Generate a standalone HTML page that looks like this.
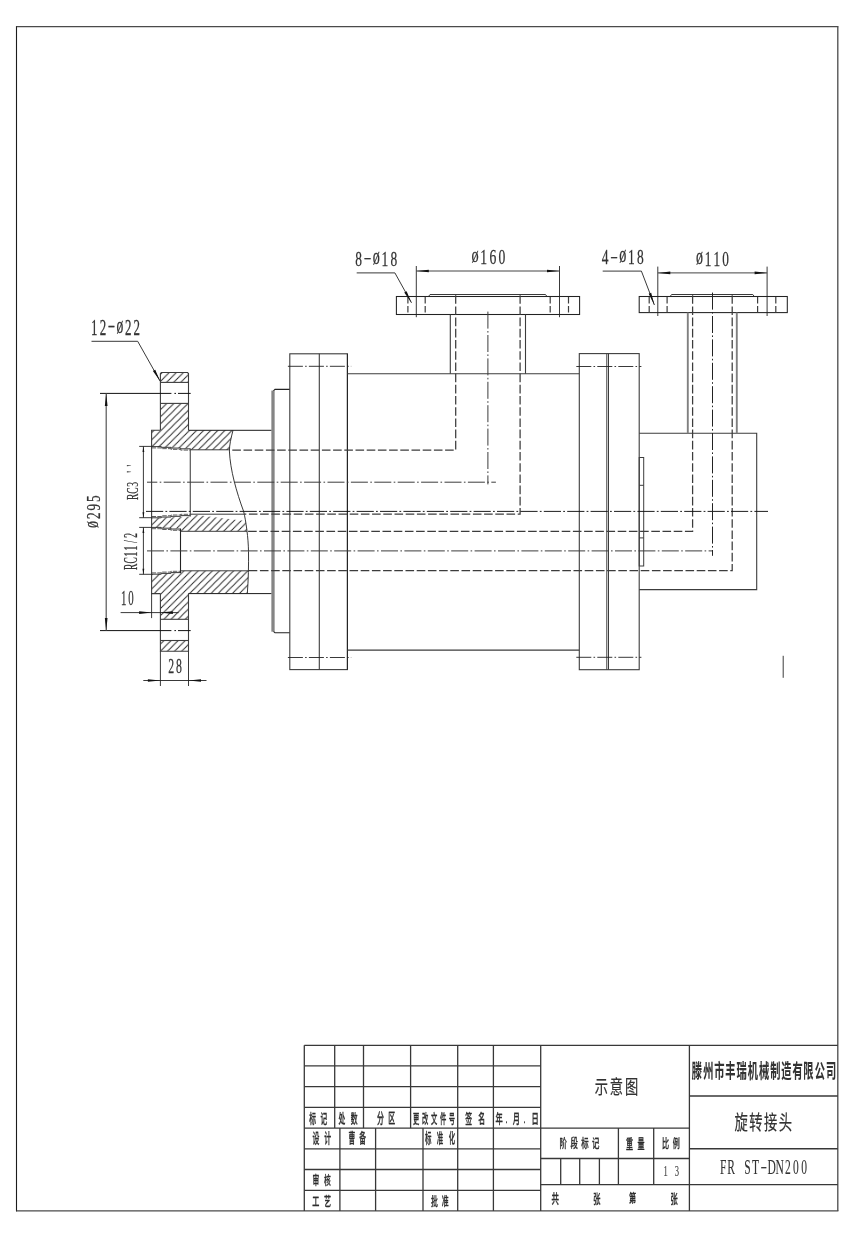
<!DOCTYPE html>
<html lang="zh-CN">
<head>
<meta charset="utf-8">
<title>旋转接头 FR ST-DN200 示意图</title>
<style>
html,body{margin:0;padding:0;background:#fff;}
body{width:860px;height:1237px;overflow:hidden;}
svg{display:block;}
svg #text{filter:grayscale(1);}
svg text{font-family:"Liberation Sans","Noto Sans CJK SC",sans-serif;fill:#333;}
svg .cjk{font-family:"Liberation Sans","Noto Sans CJK SC",sans-serif;}
svg .f-serif{font-family:"Liberation Serif","Noto Sans CJK SC",serif;}
svg .f-mono{font-family:"Liberation Mono","Noto Sans CJK SC",monospace;}
svg .f-sans{font-family:"Liberation Sans","Noto Sans CJK SC",sans-serif;}
</style>
</head>
<body>
<svg width="860" height="1237" viewBox="0 0 860 1237" fill="none" stroke="#3c3c3c" stroke-width="1" stroke-linecap="butt">
<rect x="0" y="0" width="860" height="1237" fill="#ffffff" stroke="none"/>
<g id="border">
<line x1="16.5" y1="26.1" x2="16.5" y2="1211.4" stroke-width="1.1" stroke="#1c1c1c"/>
<line x1="16.5" y1="26.6" x2="838.4" y2="26.6" stroke-width="1.3" stroke="#4a4a4a"/>
<line x1="837.8" y1="26.6" x2="837.8" y2="1210.9" stroke-width="1.3" stroke="#4a4a4a"/>
<line x1="16.5" y1="1210.9" x2="838.4" y2="1210.9" stroke-width="1.3" stroke="#4a4a4a"/>
</g>
<g id="titleblock">
<line x1="304.3" y1="1045.3" x2="837.8" y2="1045.3" stroke-width="1.35" stroke="#383838"/>
<line x1="304.3" y1="1065.9" x2="540.7" y2="1065.9" stroke-width="1.3" stroke="#383838"/>
<line x1="304.3" y1="1086.6" x2="540.7" y2="1086.6" stroke-width="1.3" stroke="#383838"/>
<line x1="304.3" y1="1107.4" x2="540.7" y2="1107.4" stroke-width="1.3" stroke="#383838"/>
<line x1="304.3" y1="1128.1" x2="540.7" y2="1128.1" stroke-width="1.3" stroke="#383838"/>
<line x1="304.3" y1="1148.8" x2="540.7" y2="1148.8" stroke-width="1.3" stroke="#383838"/>
<line x1="304.3" y1="1169.5" x2="540.7" y2="1169.5" stroke-width="1.3" stroke="#383838"/>
<line x1="304.3" y1="1190.3" x2="540.7" y2="1190.3" stroke-width="1.3" stroke="#383838"/>
<line x1="304.3" y1="1045.3" x2="304.3" y2="1210.9" stroke-width="1.3" stroke="#383838"/>
<line x1="457.7" y1="1045.3" x2="457.7" y2="1210.9" stroke-width="1.3" stroke="#383838"/>
<line x1="493.4" y1="1045.3" x2="493.4" y2="1210.9" stroke-width="1.3" stroke="#383838"/>
<line x1="540.7" y1="1045.3" x2="540.7" y2="1210.9" stroke-width="1.3" stroke="#383838"/>
<line x1="689.4" y1="1045.3" x2="689.4" y2="1210.9" stroke-width="1.3" stroke="#383838"/>
<line x1="334.7" y1="1045.3" x2="334.7" y2="1128.1" stroke-width="1.3" stroke="#383838"/>
<line x1="363.5" y1="1045.3" x2="363.5" y2="1128.1" stroke-width="1.3" stroke="#383838"/>
<line x1="410.6" y1="1045.3" x2="410.6" y2="1128.1" stroke-width="1.3" stroke="#383838"/>
<line x1="339.9" y1="1128.1" x2="339.9" y2="1210.9" stroke-width="1.3" stroke="#383838"/>
<line x1="375.6" y1="1128.1" x2="375.6" y2="1210.9" stroke-width="1.3" stroke="#383838"/>
<line x1="423.0" y1="1128.1" x2="423.0" y2="1210.9" stroke-width="1.3" stroke="#383838"/>
<line x1="540.7" y1="1128.1" x2="689.4" y2="1128.1" stroke-width="1.3" stroke="#383838"/>
<line x1="540.7" y1="1158.5" x2="689.4" y2="1158.5" stroke-width="1.3" stroke="#383838"/>
<line x1="540.7" y1="1184.6" x2="689.4" y2="1184.6" stroke-width="1.3" stroke="#383838"/>
<line x1="618.4" y1="1128.1" x2="618.4" y2="1184.6" stroke-width="1.3" stroke="#383838"/>
<line x1="653.7" y1="1128.1" x2="653.7" y2="1184.6" stroke-width="1.3" stroke="#383838"/>
<line x1="560.7" y1="1158.5" x2="560.7" y2="1184.6" stroke-width="1.3" stroke="#383838"/>
<line x1="579.7" y1="1158.5" x2="579.7" y2="1184.6" stroke-width="1.3" stroke="#383838"/>
<line x1="599.4" y1="1158.5" x2="599.4" y2="1184.6" stroke-width="1.3" stroke="#383838"/>
<line x1="689.4" y1="1096.0" x2="837.8" y2="1096.0" stroke-width="1.35" stroke="#383838"/>
<line x1="689.4" y1="1148.7" x2="837.8" y2="1148.7" stroke-width="1.35" stroke="#383838"/>
<line x1="689.4" y1="1184.6" x2="837.8" y2="1184.6" stroke-width="1.35" stroke="#383838"/>
</g>
<defs>
<pattern id="hatch" patternUnits="userSpaceOnUse" width="7.1" height="7.1" patternTransform="translate(2.2 0)"><path d="M-1 8.1 L8.1 -1 M-1 1 L1 -1 M6.1 8.1 L8.1 6.1" stroke="#262626" stroke-width="0.95" fill="none"/></pattern>
</defs>
<g id="left-flange">
<path d="M160.4 372.5 L188.5 372.5 L188.5 382.4 L160.4 382.4 Z" fill="url(#hatch)" stroke="none"/>
<path d="M160.4 403.4 L188.5 403.4 L188.5 430.3 L233.0 430.3 L230.6 440 L229.4 449.9 L190.3 449.8 L190.3 448.6 L151.6 446.8 L151.6 430.3 L160.4 430.3 Z" fill="url(#hatch)" stroke="none"/>
<path d="M151.6 518.0 L190.3 516.6 L190.3 514.2 L245.6 521 L247.0 531.2 L180.5 531.3 L180.5 528.6 L151.6 527.5 Z" fill="url(#hatch)" stroke="none"/>
<path d="M151.6 574.0 L180.5 573.2 L180.5 570.8 L248.5 570.8 L248.0 583 L247.3 593.6 L188.5 593.6 L188.5 619.3 L160.4 619.3 L160.4 593.6 L151.6 593.6 Z" fill="url(#hatch)" stroke="none"/>
<path d="M160.4 640.5 L188.5 640.5 L188.5 651.3 L160.4 651.3 Z" fill="url(#hatch)" stroke="none"/>
<path d="M160.4 430.3 L160.4 373.5 L161.4 372.5 L187.5 372.5 L188.5 373.5 L188.5 430.3" fill="none" stroke-width="1.1"/>
<path d="M160.4 593.6 L160.4 651.3 L188.5 651.3 L188.5 593.6" fill="none" stroke-width="1.1"/>
<path d="M160.4 430.3 L151.6 430.3 L151.6 593.6 L160.4 593.6" fill="none" stroke-width="1.1"/>
<line x1="188.5" y1="430.3" x2="271.7" y2="430.3" stroke-width="1.0" stroke="#1a1a1a"/>
<line x1="188.5" y1="593.6" x2="271.7" y2="593.6" stroke-width="1.0" stroke="#1a1a1a"/>
<line x1="160.4" y1="382.4" x2="188.5" y2="382.4" stroke-width="1.1"/>
<line x1="160.4" y1="403.4" x2="188.5" y2="403.4" stroke-width="1.1"/>
<line x1="160.4" y1="619.3" x2="188.5" y2="619.3" stroke-width="1.1"/>
<line x1="160.4" y1="640.5" x2="188.5" y2="640.5" stroke-width="1.1"/>
<path d="M151.6 446.6 L161.28 446.6 L161.28 447.33 L170.95 447.33 L170.95 448.07 L180.62 448.07 L180.62 448.8 L190.3 448.8" fill="none" stroke-width="0.9" stroke="#222"/>
<path d="M151.6 447.9 L161.28 447.9 L161.28 448.63 L170.95 448.63 L170.95 449.37 L180.62 449.37 L180.62 450.1 L190.3 450.1" fill="none" stroke-width="0.8" stroke="#333" stroke-dasharray="4.5 1.2"/>
<path d="M151.6 517.8 L161.28 517.8 L161.28 517.07 L170.95 517.07 L170.95 516.33 L180.62 516.33 L180.62 515.6 L190.3 515.6" fill="none" stroke-width="0.9" stroke="#222"/>
<path d="M151.6 516.5 L161.28 516.5 L161.28 515.77 L170.95 515.77 L170.95 515.03 L180.62 515.03 L180.62 514.3 L190.3 514.3" fill="none" stroke-width="0.8" stroke="#333" stroke-dasharray="4.5 1.2"/>
<line x1="190.3" y1="448.6" x2="190.3" y2="516.6" stroke-width="1.2" stroke="#555"/>
<path d="M151.6 527.4 L161.23 527.4 L161.23 528.2 L170.87 528.2 L170.87 529.0 L180.5 529.0" fill="none" stroke-width="0.9" stroke="#222"/>
<path d="M151.6 528.7 L161.23 528.7 L161.23 529.5 L170.87 529.5 L170.87 530.3 L180.5 530.3" fill="none" stroke-width="0.8" stroke="#333" stroke-dasharray="4.5 1.2"/>
<path d="M151.6 574.2 L161.23 574.2 L161.23 573.4 L170.87 573.4 L170.87 572.6 L180.5 572.6" fill="none" stroke-width="0.9" stroke="#222"/>
<path d="M151.6 572.9 L161.23 572.9 L161.23 572.1 L170.87 572.1 L170.87 571.3 L180.5 571.3" fill="none" stroke-width="0.8" stroke="#333" stroke-dasharray="4.5 1.2"/>
<line x1="180.5" y1="528.6" x2="180.5" y2="573.2" stroke-width="1.1" stroke="#222"/>
<line x1="190.3" y1="449.8" x2="228.9" y2="449.8" stroke-width="1.0"/>
<line x1="190.3" y1="514.2" x2="244.0" y2="514.2" stroke-width="1.0"/>
<line x1="180.5" y1="531.3" x2="247.0" y2="531.3" stroke-width="1.0"/>
<line x1="180.5" y1="570.8" x2="248.5" y2="570.8" stroke-width="1.0"/>
<path d="M233.0 430.3 C231 438 229.4 445 229.4 451 C230.2 470 236.5 492 243.6 511.3 C246 521 248.3 538 248.5 551.3 C248.7 565 248.4 580 247.3 593.6" stroke="#222" stroke-width="0.9" fill="none"/>
</g>
<g id="body">
<path d="M289.8 389.4 L275.0 389.4 L273.2 391.2" fill="none" stroke-width="1.1" stroke="#222"/>
<path d="M273.2 631.0 L275.0 632.8 L289.8 632.8" fill="none" stroke-width="1.1" stroke="#222"/>
<line x1="273.0" y1="390.6" x2="273.0" y2="631.7" stroke-width="3.3" stroke="#858585"/>
<rect x="289.8" y="353.8" width="57.6" height="315.8" stroke-width="1.1"/>
<line x1="319.3" y1="353.8" x2="319.3" y2="669.6" stroke-width="1.1"/>
<line x1="347.4" y1="353.8" x2="347.4" y2="669.6" stroke-width="1.0" stroke="#222"/>
<line x1="347.4" y1="373.7" x2="579.3" y2="373.7" stroke-width="1.1"/>
<line x1="347.4" y1="650.1" x2="579.3" y2="650.1" stroke-width="1.1"/>
<rect x="579.3" y="353.6" width="59.9" height="316.1" stroke-width="1.1"/>
<line x1="606.8" y1="353.6" x2="606.8" y2="669.7" stroke-width="1.0"/>
<line x1="608.5" y1="353.6" x2="608.5" y2="669.7" stroke-width="1.0"/>
<path d="M639.2 433.3 L756.7 433.3 L756.7 589.6 L639.2 589.6" fill="none" stroke-width="1.1"/>
<rect x="639.2" y="457.5" width="4.5" height="108.5" stroke-width="1"/>
<line x1="639.2" y1="485.3" x2="643.7" y2="485.3" stroke-width="1.0"/>
<line x1="639.2" y1="537.9" x2="643.7" y2="537.9" stroke-width="1.0"/>
<line x1="783.2" y1="655.8" x2="783.2" y2="677.8" stroke-width="1.0"/>
</g>
<g id="pipe1">
<rect x="396.4" y="296.5" width="183.2" height="18" stroke-width="1.05" stroke="#222"/>
<path d="M428.6 296.4 L430.0 294.5 L545.5 294.5 L546.9 296.4" fill="none" stroke-width="0.9" stroke="#222"/>
<line x1="450.3" y1="314.4" x2="450.3" y2="373.7" stroke-width="1.1"/>
<line x1="525.5" y1="314.4" x2="525.5" y2="373.7" stroke-width="1.1"/>
<line x1="407.9" y1="297.0" x2="407.9" y2="314.4" stroke-width="1.2" stroke-dasharray="6.5 2.5"/>
<line x1="425.2" y1="297.0" x2="425.2" y2="314.4" stroke-width="1.2" stroke-dasharray="6.5 2.5"/>
<line x1="550.2" y1="297.0" x2="550.2" y2="314.4" stroke-width="1.2" stroke-dasharray="6.5 2.5"/>
<line x1="568.5" y1="297.0" x2="568.5" y2="314.4" stroke-width="1.2" stroke-dasharray="6.5 2.5"/>
</g>
<g id="pipe2">
<rect x="639.2" y="296.5" width="148.1" height="16.1" stroke-width="1.05" stroke="#222"/>
<path d="M670.2 296.4 L671.6 294.5 L752.8 294.5 L754.2 296.4" fill="none" stroke-width="0.9" stroke="#222"/>
<line x1="687.8" y1="312.6" x2="687.8" y2="433.3" stroke-width="1.9" stroke="#808080"/>
<line x1="736.8" y1="312.6" x2="736.8" y2="433.3" stroke-width="1.9" stroke="#808080"/>
<line x1="649.2" y1="297.0" x2="649.2" y2="312.6" stroke-width="1.2" stroke-dasharray="6.5 2.5"/>
<line x1="667.1" y1="297.0" x2="667.1" y2="312.6" stroke-width="1.2" stroke-dasharray="6.5 2.5"/>
<line x1="757.6" y1="297.0" x2="757.6" y2="312.6" stroke-width="1.2" stroke-dasharray="6.5 2.5"/>
<line x1="775.8" y1="297.0" x2="775.8" y2="312.6" stroke-width="1.2" stroke-dasharray="6.5 2.5"/>
</g>
<g id="hidden">
<path d="M455.7 295.2 L455.7 450.0 L229.0 450.0" fill="none" stroke-width="1.25" stroke-dasharray="8.6 2.6"/>
<path d="M520.1 295.2 L520.1 514.2 L244.2 514.2" fill="none" stroke-width="1.25" stroke-dasharray="8.6 2.6"/>
<path d="M692.6 295.2 L692.6 531.3 L247.0 531.3" fill="none" stroke-width="1.25" stroke-dasharray="8.6 2.6"/>
<path d="M732.2 295.2 L732.2 570.7 L248.5 570.7" fill="none" stroke-width="1.25" stroke-dasharray="8.6 2.6"/>
</g>
<g id="centre">
<line x1="146.0" y1="511.4" x2="768.0" y2="511.4" stroke-width="0.95" stroke="#111" stroke-dasharray="17.2 2.2 1.8 2.2"/>
<path d="M147 482.2 L495.9 482.2" stroke-dasharray="17 2.4 1.6 2.4" stroke-dashoffset="6.7" stroke-width="1"/>
<path d="M487.9 311.6 L487.9 484.4" fill="none" stroke-width="1.0" stroke-dasharray="17 2.4 1.6 2.4"/>
<path d="M147.0 550.9 L712.5 550.9" fill="none" stroke-width="1.0" stroke-dasharray="17 2.4 1.6 2.4"/>
<path d="M712.5 292.6 L712.5 555.8" fill="none" stroke-width="1.0" stroke="#222" stroke-dasharray="17 2.4 1.6 2.4"/>
<line x1="287.9" y1="366.3" x2="351.2" y2="366.3" stroke-width="0.9" stroke="#222" stroke-dasharray="15 2.2 1.6 2.2"/>
<line x1="287.9" y1="657.5" x2="351.2" y2="657.5" stroke-width="0.9" stroke="#222" stroke-dasharray="15 2.2 1.6 2.2"/>
<line x1="576.3" y1="366.5" x2="641.4" y2="366.5" stroke-width="0.9" stroke="#222" stroke-dasharray="15 2.2 1.6 2.2"/>
<line x1="576.3" y1="657.3" x2="641.4" y2="657.3" stroke-width="0.9" stroke="#222" stroke-dasharray="15 2.2 1.6 2.2"/>
</g>
<g id="dims">
<path d="M91.5 341.3 L137.7 341.3 L160.2 381.3" fill="none" stroke-width="0.9" stroke="#222"/>
<path d="M160.20 381.30 L152.90 371.07 L155.25 369.74 Z" fill="#111" stroke="none"/>
<line x1="100.0" y1="393.4" x2="171.4" y2="393.4" stroke-width="1.0" stroke="#111"/>
<line x1="174.4" y1="393.4" x2="176.0" y2="393.4" stroke-width="1.0" stroke="#111"/>
<line x1="178.0" y1="393.4" x2="190.7" y2="393.4" stroke-width="1.0" stroke="#111"/>
<line x1="100.0" y1="630.6" x2="171.4" y2="630.6" stroke-width="1.0" stroke="#111"/>
<line x1="174.4" y1="630.6" x2="176.0" y2="630.6" stroke-width="1.0" stroke="#111"/>
<line x1="178.0" y1="630.6" x2="190.7" y2="630.6" stroke-width="1.0" stroke="#111"/>
<line x1="106.2" y1="393.4" x2="106.2" y2="630.6" stroke-width="1.2" stroke="#555"/>
<path d="M106.20 393.40 L107.55 405.90 L104.85 405.90 Z" fill="#111" stroke="none"/>
<path d="M106.20 630.60 L104.85 618.10 L107.55 618.10 Z" fill="#111" stroke="none"/>
<line x1="139.2" y1="446.4" x2="151.6" y2="446.4" stroke-width="0.9" stroke="#222"/>
<line x1="139.2" y1="517.7" x2="151.6" y2="517.7" stroke-width="0.9" stroke="#222"/>
<line x1="143.4" y1="446.4" x2="143.4" y2="517.7" stroke-width="0.9" stroke="#222"/>
<path d="M143.40 446.40 L144.30 451.90 L142.50 451.90 Z" fill="#111" stroke="none"/>
<path d="M143.40 517.70 L142.50 512.20 L144.30 512.20 Z" fill="#111" stroke="none"/>
<line x1="139.2" y1="527.4" x2="151.6" y2="527.4" stroke-width="0.9" stroke="#222"/>
<line x1="139.2" y1="574.3" x2="151.6" y2="574.3" stroke-width="0.9" stroke="#222"/>
<line x1="143.4" y1="527.4" x2="143.4" y2="574.3" stroke-width="0.9" stroke="#222"/>
<path d="M143.40 527.40 L144.30 532.90 L142.50 532.90 Z" fill="#111" stroke="none"/>
<path d="M143.40 574.30 L142.50 568.80 L144.30 568.80 Z" fill="#111" stroke="none"/>
<line x1="120.6" y1="612.6" x2="178.6" y2="612.6" stroke-width="0.9" stroke="#222"/>
<line x1="151.6" y1="593.6" x2="151.6" y2="618.1" stroke-width="0.9" stroke="#222"/>
<path d="M151.60 612.60 L139.10 613.95 L139.10 611.25 Z" fill="#111" stroke="none"/>
<path d="M160.40 612.60 L172.90 611.25 L172.90 613.95 Z" fill="#111" stroke="none"/>
<line x1="160.4" y1="651.3" x2="160.4" y2="686.0" stroke-width="0.9" stroke="#222"/>
<line x1="188.5" y1="651.3" x2="188.5" y2="686.0" stroke-width="0.9" stroke="#222"/>
<line x1="143.3" y1="680.5" x2="206.5" y2="680.5" stroke-width="0.9" stroke="#222"/>
<path d="M160.40 680.50 L147.90 681.85 L147.90 679.15 Z" fill="#111" stroke="none"/>
<path d="M188.50 680.50 L201.00 679.15 L201.00 681.85 Z" fill="#111" stroke="none"/>
<path d="M356.7 272.9 L394.9 272.9 L411.5 302.8" fill="none" stroke-width="0.9" stroke="#222"/>
<path d="M411.50 302.80 L404.26 292.52 L406.62 291.21 Z" fill="#111" stroke="none"/>
<line x1="416.3" y1="266.0" x2="416.3" y2="317.2" stroke-width="0.9" stroke="#222"/>
<line x1="559.5" y1="266.0" x2="559.5" y2="317.2" stroke-width="0.9" stroke="#222"/>
<line x1="416.3" y1="271.0" x2="559.5" y2="271.0" stroke-width="1.0" stroke="#444"/>
<path d="M416.30 271.00 L428.80 269.65 L428.80 272.35 Z" fill="#111" stroke="none"/>
<path d="M559.50 271.00 L547.00 272.35 L547.00 269.65 Z" fill="#111" stroke="none"/>
<path d="M602.7 271.1 L641.4 271.1 L654.4 305.0" fill="none" stroke-width="0.9" stroke="#222"/>
<path d="M654.40 305.00 L648.66 293.81 L651.18 292.85 Z" fill="#111" stroke="none"/>
<line x1="657.8" y1="266.6" x2="657.8" y2="316.0" stroke-width="0.9" stroke="#222"/>
<line x1="767.1" y1="266.6" x2="767.1" y2="316.0" stroke-width="0.9" stroke="#222"/>
<line x1="657.8" y1="272.9" x2="767.1" y2="272.9" stroke-width="1.0" stroke="#444"/>
<path d="M657.80 272.90 L670.30 271.55 L670.30 274.25 Z" fill="#111" stroke="none"/>
<path d="M767.10 272.90 L754.60 274.25 L754.60 271.55 Z" fill="#111" stroke="none"/>
</g>
<g id="text">
<text aria-label="12-ø22" transform="translate(0 334.88) scale(0.6471 1.1037)" x="140.51 153.98 166.41 179.88 193.36 206.48" y="0.00 0.00 -3.13 -1.72 0.00 0.00" font-size="20" class="f-serif" fill="#333" stroke="#333" stroke-width="0.25" xml:space="preserve">12<tspan font-size="14.4" textLength="11.30" lengthAdjust="spacingAndGlyphs">-</tspan><tspan font-size="21.0">ø</tspan>22</text>
<text aria-label="8-ø18" transform="translate(0 265.79) scale(0.6716 1.0741)" x="528.99 541.51 554.99 568.11 581.49" y="0.00 -3.13 -1.72 0.00 0.00" font-size="20" class="f-serif" fill="#333" stroke="#333" stroke-width="0.25" xml:space="preserve">8<tspan font-size="14.4" textLength="11.30" lengthAdjust="spacingAndGlyphs">-</tspan><tspan font-size="21.0">ø</tspan>18</text>
<text aria-label="ø160" transform="translate(0 264.20) scale(0.6824 1.0074)" x="690.81 703.93 717.21 730.43" y="-1.72 0.00 0.00 0.00" font-size="20" class="f-serif" fill="#333" stroke="#333" stroke-width="0.25" xml:space="preserve"><tspan font-size="21.0">ø</tspan>160</text>
<text aria-label="4-ø18" transform="translate(0 264.19) scale(0.6732 1.0519)" x="893.79 906.36 919.84 932.96 946.34" y="0.00 -3.13 -1.72 0.00 0.00" font-size="20" class="f-serif" fill="#333" stroke="#333" stroke-width="0.25" xml:space="preserve">4<tspan font-size="14.4" textLength="11.30" lengthAdjust="spacingAndGlyphs">-</tspan><tspan font-size="21.0">ø</tspan>18</text>
<text aria-label="ø110" transform="translate(0 265.79) scale(0.6635 1.0741)" x="1049.10 1062.22 1075.35 1088.72" y="-1.72 0.00 0.00 0.00" font-size="20" class="f-serif" fill="#333" stroke="#333" stroke-width="0.25" xml:space="preserve"><tspan font-size="21.0">ø</tspan>110</text>
<text aria-label="10" transform="translate(0 605.00) scale(0.5436 1.0222)" x="222.48 235.85" y="0.00 0.00" font-size="20" class="f-serif" fill="#333" stroke="#333" stroke-width="0.25" xml:space="preserve">10</text>
<text aria-label="28" transform="translate(0 672.99) scale(0.5900 1.0519)" x="285.23 298.25" y="0.00 0.00" font-size="20" class="f-serif" fill="#333" stroke="#333" stroke-width="0.25" xml:space="preserve">28</text>
<text aria-label="ø295" transform="translate(99.71 527.30) rotate(-90) scale(0.6593 0.9481)" x="-1.05 12.43 25.55 38.38" y="-1.72 0.00 0.00 0.00" font-size="20" class="f-serif" fill="#333" stroke="#333" stroke-width="0.25" xml:space="preserve"><tspan font-size="21.0">ø</tspan>295</text>
<text aria-label="RC3 ''" transform="translate(137.93 498.80) rotate(-90) scale(0.4755 0.8519)" x="-2.75 10.82 25.40 43.58 54.90 68.02" y="0.00 0.00 0.00 0.00 0.00 0.00" font-size="20" class="f-serif" fill="#333" stroke="#333" stroke-width="0.25" xml:space="preserve">RC3 ''</text>
<text aria-label="RC11/2" transform="translate(137.32 568.60) rotate(-90) scale(0.4755 0.9037)" x="-2.75 10.82 25.20 38.33 53.95 64.92" y="0.00 0.00 0.00 0.00 0.00 0.00" font-size="20" class="f-serif" fill="#333" stroke="#333" stroke-width="0.25" xml:space="preserve">RC11/2</text>
<text transform="translate(0 1122.89) scale(0.3386 0.6505)" x="913.59 946.76" y="0" font-size="20" class="cjk" font-weight="500" fill="#222" stroke="#222" stroke-width="0.5" xml:space="preserve">标记</text>
<text transform="translate(0 1122.84) scale(0.3404 0.6436)" x="994.33 1030.07" y="0" font-size="20" class="cjk" font-weight="500" fill="#222" stroke="#222" stroke-width="0.5" xml:space="preserve">处数</text>
<text transform="translate(0 1122.82) scale(0.3459 0.6576)" x="1090.12 1122.39" y="0" font-size="20" class="cjk" font-weight="500" fill="#222" stroke="#222" stroke-width="0.5" xml:space="preserve">分区</text>
<text transform="translate(0 1122.85) scale(0.3138 0.6402)" x="1316.52 1344.78 1373.39 1401.90 1430.21" y="0" font-size="20" class="cjk" font-weight="500" fill="#222" stroke="#222" stroke-width="0.5" xml:space="preserve">更改文件号</text>
<text transform="translate(0 1122.90) scale(0.3422 0.6471)" x="1359.53 1397.93" y="0" font-size="20" class="cjk" font-weight="500" fill="#222" stroke="#222" stroke-width="0.5" xml:space="preserve">签名</text>
<text transform="translate(0 1122.90) scale(0.3626 0.6471)" x="1366.31 1394.04 1413.81 1443.95 1465.53" y="0" font-size="20" class="cjk" font-weight="500" fill="#222" stroke="#222" stroke-width="0.5" xml:space="preserve">年.月.日</text>
<text transform="translate(0 1143.42) scale(0.3459 0.6578)" x="903.68 937.21" y="0" font-size="20" class="cjk" font-weight="500" fill="#222" stroke="#222" stroke-width="0.5" xml:space="preserve">设计</text>
<text transform="translate(0 1143.48) scale(0.3368 0.6578)" x="1034.41 1066.77" y="0" font-size="20" class="cjk" font-weight="500" fill="#222" stroke="#222" stroke-width="0.5" xml:space="preserve">曹备</text>
<text transform="translate(0 1143.42) scale(0.3228 0.6543)" x="1316.71 1353.28 1389.99" y="0" font-size="20" class="cjk" font-weight="500" fill="#222" stroke="#222" stroke-width="0.5" xml:space="preserve">标准化</text>
<text transform="translate(0 1184.74) scale(0.3386 0.6223)" x="922.94 956.90" y="0" font-size="20" class="cjk" font-weight="500" fill="#222" stroke="#222" stroke-width="0.5" xml:space="preserve">审核</text>
<text transform="translate(0 1206.15) scale(0.3536 0.6243)" x="883.35 915.98" y="0" font-size="20" class="cjk" font-weight="500" fill="#222" stroke="#222" stroke-width="0.5" xml:space="preserve">工艺</text>
<text transform="translate(0 1205.81) scale(0.3422 0.6043)" x="1259.60 1290.82" y="0" font-size="20" class="cjk" font-weight="500" fill="#222" stroke="#222" stroke-width="0.5" xml:space="preserve">批准</text>
<text transform="translate(0 1094.36) scale(0.6630 0.9626)" x="896.91 919.64 942.51" y="0" font-size="20" class="cjk" font-weight="400" fill="#222" stroke="#222" stroke-width="0.2" xml:space="preserve">示意图</text>
<text transform="translate(0 1147.90) scale(0.3704 0.6085)" x="1510.41 1540.12 1569.38 1598.34" y="0" font-size="20" class="cjk" font-weight="500" fill="#222" stroke="#222" stroke-width="0.5" xml:space="preserve">阶段标记</text>
<text transform="translate(0 1148.24) scale(0.3516 0.6354)" x="1780.38 1813.41" y="0" font-size="20" class="cjk" font-weight="500" fill="#222" stroke="#222" stroke-width="0.5" xml:space="preserve">重量</text>
<text transform="translate(0 1147.95) scale(0.3536 0.6183)" x="1872.48 1902.83" y="0" font-size="20" class="cjk" font-weight="500" fill="#222" stroke="#222" stroke-width="0.5" xml:space="preserve">比例</text>
<text aria-label="1 3" transform="translate(0 1175.85) scale(0.4271 0.7556)" x="1553.52 1571.89 1579.97" y="0.00 0.00 0.00" font-size="20" class="f-serif" fill="#444" stroke="#444" stroke-width="0.1" xml:space="preserve">1 3</text>
<text transform="translate(0 1203.42) scale(0.3736 0.6324)" x="1476.51" y="0" font-size="20" class="cjk" font-weight="500" fill="#222" stroke="#222" stroke-width="0.5" xml:space="preserve">共</text>
<text transform="translate(0 1203.35) scale(0.3611 0.6393)" x="1642.77" y="0" font-size="20" class="cjk" font-weight="500" fill="#222" stroke="#222" stroke-width="0.5" xml:space="preserve">张</text>
<text transform="translate(0 1203.44) scale(0.3571 0.6257)" x="1761.70" y="0" font-size="20" class="cjk" font-weight="500" fill="#222" stroke="#222" stroke-width="0.5" xml:space="preserve">第</text>
<text transform="translate(0 1203.35) scale(0.3611 0.6393)" x="1856.55" y="0" font-size="20" class="cjk" font-weight="500" fill="#222" stroke="#222" stroke-width="0.5" xml:space="preserve">张</text>
<text transform="translate(0 1077.84) scale(0.5103 0.9792)" x="1355.79 1378.29 1399.54 1421.44 1443.43 1465.13 1487.23 1509.43 1530.73 1553.13 1574.23 1596.52 1618.67" y="0" font-size="20" class="cjk" font-weight="700" fill="#111" stroke="#111" stroke-width="0.1" xml:space="preserve">滕州市丰瑞机械制造有限公司</text>
<text transform="translate(0 1129.70) scale(0.6649 1.0000)" x="1104.69 1126.85 1149.06 1171.17" y="0" font-size="20" class="cjk" font-weight="400" fill="#222" stroke="#222" stroke-width="0.2" xml:space="preserve">旋转接头</text>
<text aria-label="FR ST-DN200" transform="translate(0 1173.99) scale(0.5768 1.0593)" x="1248.48 1261.03 1281.98 1290.38 1303.83 1318.39 1330.83 1344.68 1361.08 1374.98 1388.98" y="0.00 0.00 0.00 0.00 0.00 -3.13 0.00 0.00 0.00 0.00 0.00" font-size="20" class="f-serif" fill="#333" stroke="#333" stroke-width="0.1" xml:space="preserve">FR ST<tspan font-size="14.4" textLength="11.30" lengthAdjust="spacingAndGlyphs">-</tspan>DN200</text>
</g>
</svg>
</body>
</html>
